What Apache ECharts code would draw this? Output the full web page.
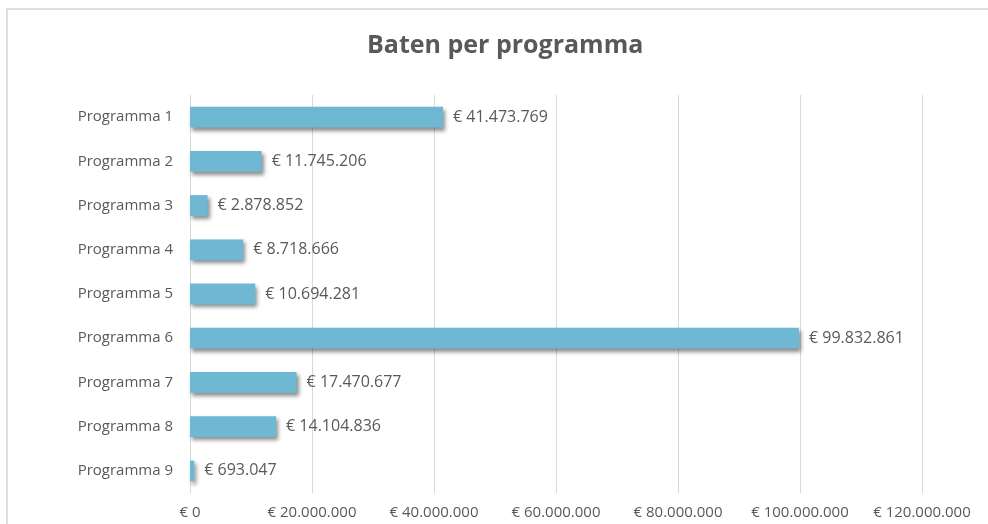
<!DOCTYPE html>
<html>
<head>
<meta charset="utf-8">
<script src="https://cdn.jsdelivr.net/npm/echarts@6/dist/echarts.min.js"></script>
<style>
  html, body { margin: 0; padding: 0; background: #fff; }
  #frame {
    position: absolute; left: 6px; top: 8px; width: 1000px; height: 540px;
    border-left: 2px solid #dedede; border-top: 2px solid #dedede;
  }
  #chart { position: absolute; left: 0; top: 0; width: 988px; height: 524px; }
</style>
</head>
<body>
<div id="frame"></div>
<div id="chart"></div>
<script>
let categories = ['Programma 1', 'Programma 2', 'Programma 3', 'Programma 4', 'Programma 5',
  'Programma 6', 'Programma 7', 'Programma 8', 'Programma 9']
let values = [41473769, 11745206, 2878852, 8718666, 10694281, 99832861, 17470677, 14104836, 693047]

let textColor = '#595959'
let font = '"Open Sans", sans-serif'

// 1234567 -> "€ 1.234.567"
function euro(v) {
  return '€ ' + String(Math.round(v)).replace(/\B(?=(\d{3})+(?!\d))/g, '.')
}

let chart = echarts.init(document.getElementById('chart'))
chart.setOption({
  animation: false,
  title: {
    text: 'Baten per programma',
    left: 362,
    top: 28,
    textStyle: { color: textColor, fontSize: 25, fontWeight: 'bold', fontFamily: font },
  },
  grid: { left: 190, right: 66, top: 95, bottom: 31 },
  xAxis: {
    type: 'value',
    min: 0,
    max: 120000000,
    interval: 20000000,
    axisLine: { show: false },
    axisTick: { show: false },
    splitLine: { lineStyle: { color: '#d9d9d9', width: 1 } },
    axisLabel: {
      color: textColor,
      fontSize: 15,
      fontFamily: font,
      margin: 12,
      formatter: euro,
    },
  },
  yAxis: {
    type: 'category',
    inverse: true,
    data: categories,
    axisLine: { lineStyle: { color: '#d9d9d9' } },
    axisTick: { show: false },
    axisLabel: { color: textColor, fontSize: 15, fontFamily: font, margin: 17 },
  },
  series: [
    {
      type: 'bar',
      data: values,
      barCategoryGap: '53%',
      itemStyle: {
        color: '#6fb8d4',
        shadowColor: 'rgba(0,0,0,0.45)',
        shadowBlur: 4,
        shadowOffsetX: 2,
        shadowOffsetY: 3,
      },
      label: {
        show: true,
        position: 'right',
        distance: 10,
        color: textColor,
        fontSize: 16,
        fontFamily: font,
        formatter: (p) => euro(p.value),
      },
    },
  ],
})
</script>
</body>
</html>
